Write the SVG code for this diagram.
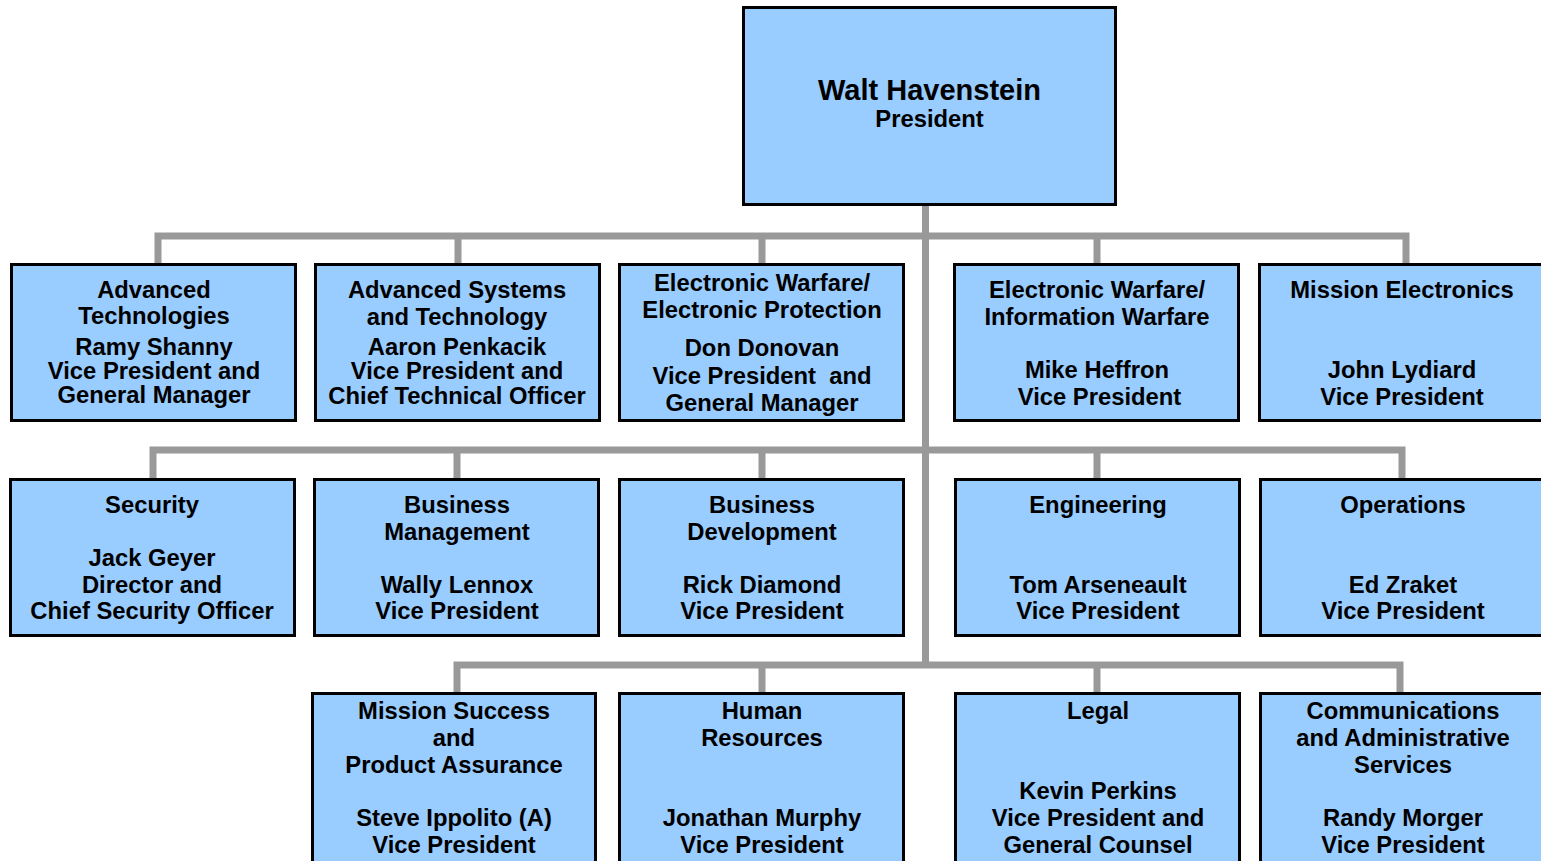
<svg xmlns="http://www.w3.org/2000/svg" width="1541" height="861" viewBox="0 0 1541 861">
<style>
.box{fill:#99CCFF;stroke:#000;stroke-width:3}
.t{font-family:"Liberation Sans",Arial,Helvetica,sans-serif;font-weight:bold;font-size:23.8px;text-anchor:middle;fill:#000}
.c{fill:none;stroke:#999999;stroke-width:7;stroke-linejoin:miter;stroke-linecap:butt}
</style>
<rect width="1541" height="861" fill="#fff"/>
<g id="connectors">
<path class="c" d="M925.5 206 V665"/>
<path class="c" d="M158 263 V236 H1406 V263 M458 236 V263 M762 236 V263 M1097 236 V263"/>
<path class="c" d="M153 478 V450 H1402 V478 M457 450 V478 M762 450 V478 M1097 450 V478"/>
<path class="c" d="M457 692 V665 H1400 V692 M762 665 V692 M1097 665 V692"/>
</g>
<g id="president">
<rect class="box" x="743.5" y="7.5" width="372" height="197"/>
<text class="t" transform="translate(929.5 0)"><tspan x="0" y="100" font-size="29">Walt Havenstein</tspan><tspan x="0" y="126.5">President</tspan></text>
</g>
<g id="adv-tech">
<rect class="box" x="11.5" y="264.5" width="284" height="156"/>
<text class="t" transform="translate(154 0)"><tspan x="0" y="297.5">Advanced</tspan><tspan x="0" y="323.5">Technologies</tspan><tspan x="0" y="355">Ramy Shanny</tspan><tspan x="0" y="379">Vice President and</tspan><tspan x="0" y="403">General Manager</tspan></text>
</g>
<g id="adv-sys">
<rect class="box" x="315.5" y="264.5" width="284" height="156"/>
<text class="t" transform="translate(457 0)"><tspan x="0" y="297.5">Advanced Systems</tspan><tspan x="0" y="324.5">and Technology</tspan><tspan x="0" y="355">Aaron Penkacik</tspan><tspan x="0" y="379">Vice President and</tspan><tspan x="0" y="403.5">Chief Technical Officer</tspan></text>
</g>
<g id="ew-ep">
<rect class="box" x="619.5" y="264.5" width="284" height="156"/>
<text class="t" transform="translate(762 0)"><tspan x="0" y="290.5">Electronic Warfare/</tspan><tspan x="0" y="317.5">Electronic Protection</tspan><tspan x="0" y="355.5">Don Donovan</tspan><tspan x="0" y="383.5" xml:space="preserve">Vice President  and</tspan><tspan x="0" y="410.5">General Manager</tspan></text>
</g>
<g id="ew-iw">
<rect class="box" x="954.5" y="264.5" width="284" height="156"/>
<text class="t" transform="translate(1097 0)"><tspan x="0" y="297.5">Electronic Warfare/</tspan><tspan x="0" y="324.5">Information Warfare</tspan><tspan x="0" y="377.5">Mike Heffron</tspan><tspan x="2.5" y="404.5">Vice President</tspan></text>
</g>
<g id="mission-elec">
<rect class="box" x="1259.5" y="264.5" width="286" height="156"/>
<text class="t" transform="translate(1402 0)"><tspan x="0" y="297.5">Mission Electronics</tspan><tspan x="0" y="377.5">John Lydiard</tspan><tspan x="0" y="404.5">Vice President</tspan></text>
</g>
<g id="security">
<rect class="box" x="10.5" y="479.5" width="284" height="156"/>
<text class="t" transform="translate(152 0)"><tspan x="0" y="513">Security</tspan><tspan x="0" y="566">Jack Geyer</tspan><tspan x="0" y="592.5">Director and</tspan><tspan x="0" y="619">Chief Security Officer</tspan></text>
</g>
<g id="bus-mgmt">
<rect class="box" x="314.5" y="479.5" width="284" height="156"/>
<text class="t" transform="translate(457 0)"><tspan x="0" y="513">Business</tspan><tspan x="0" y="539.5">Management</tspan><tspan x="0" y="592.5">Wally Lennox</tspan><tspan x="0" y="619">Vice President</tspan></text>
</g>
<g id="bus-dev">
<rect class="box" x="619.5" y="479.5" width="284" height="156"/>
<text class="t" transform="translate(762 0)"><tspan x="0" y="513">Business</tspan><tspan x="0" y="539.5">Development</tspan><tspan x="0" y="592.5">Rick Diamond</tspan><tspan x="0" y="619">Vice President</tspan></text>
</g>
<g id="engineering">
<rect class="box" x="955.5" y="479.5" width="284" height="156"/>
<text class="t" transform="translate(1098 0)"><tspan x="0" y="513">Engineering</tspan><tspan x="0" y="592.5">Tom Arseneault</tspan><tspan x="0" y="619">Vice President</tspan></text>
</g>
<g id="operations">
<rect class="box" x="1260.5" y="479.5" width="286" height="156"/>
<text class="t" transform="translate(1403 0)"><tspan x="0" y="513">Operations</tspan><tspan x="0" y="592.5">Ed Zraket</tspan><tspan x="0" y="619">Vice President</tspan></text>
</g>
<g id="mission-success">
<rect class="box" x="312.5" y="693.5" width="283" height="180"/>
<text class="t" transform="translate(454 0)"><tspan x="0" y="718.5">Mission Success</tspan><tspan x="0" y="745.5">and</tspan><tspan x="0" y="772.5">Product Assurance</tspan><tspan x="0" y="825.5">Steve Ippolito (A)</tspan><tspan x="0" y="852.5">Vice President</tspan></text>
</g>
<g id="hr">
<rect class="box" x="619.5" y="693.5" width="284" height="180"/>
<text class="t" transform="translate(762 0)"><tspan x="0" y="718.5">Human</tspan><tspan x="0" y="745.5">Resources</tspan><tspan x="0" y="825.5">Jonathan Murphy</tspan><tspan x="0" y="852.5">Vice President</tspan></text>
</g>
<g id="legal">
<rect class="box" x="955.5" y="693.5" width="284" height="180"/>
<text class="t" transform="translate(1098 0)"><tspan x="0" y="718.5">Legal</tspan><tspan x="0" y="798.5">Kevin Perkins</tspan><tspan x="0" y="825.5">Vice President and</tspan><tspan x="0" y="852.5">General Counsel</tspan></text>
</g>
<g id="comms">
<rect class="box" x="1260.5" y="693.5" width="286" height="180"/>
<text class="t" transform="translate(1403 0)"><tspan x="0" y="718.5">Communications</tspan><tspan x="0" y="745.5">and Administrative</tspan><tspan x="0" y="772.5">Services</tspan><tspan x="0" y="825.5">Randy Morger</tspan><tspan x="0" y="852.5">Vice President</tspan></text>
</g>
</svg>
